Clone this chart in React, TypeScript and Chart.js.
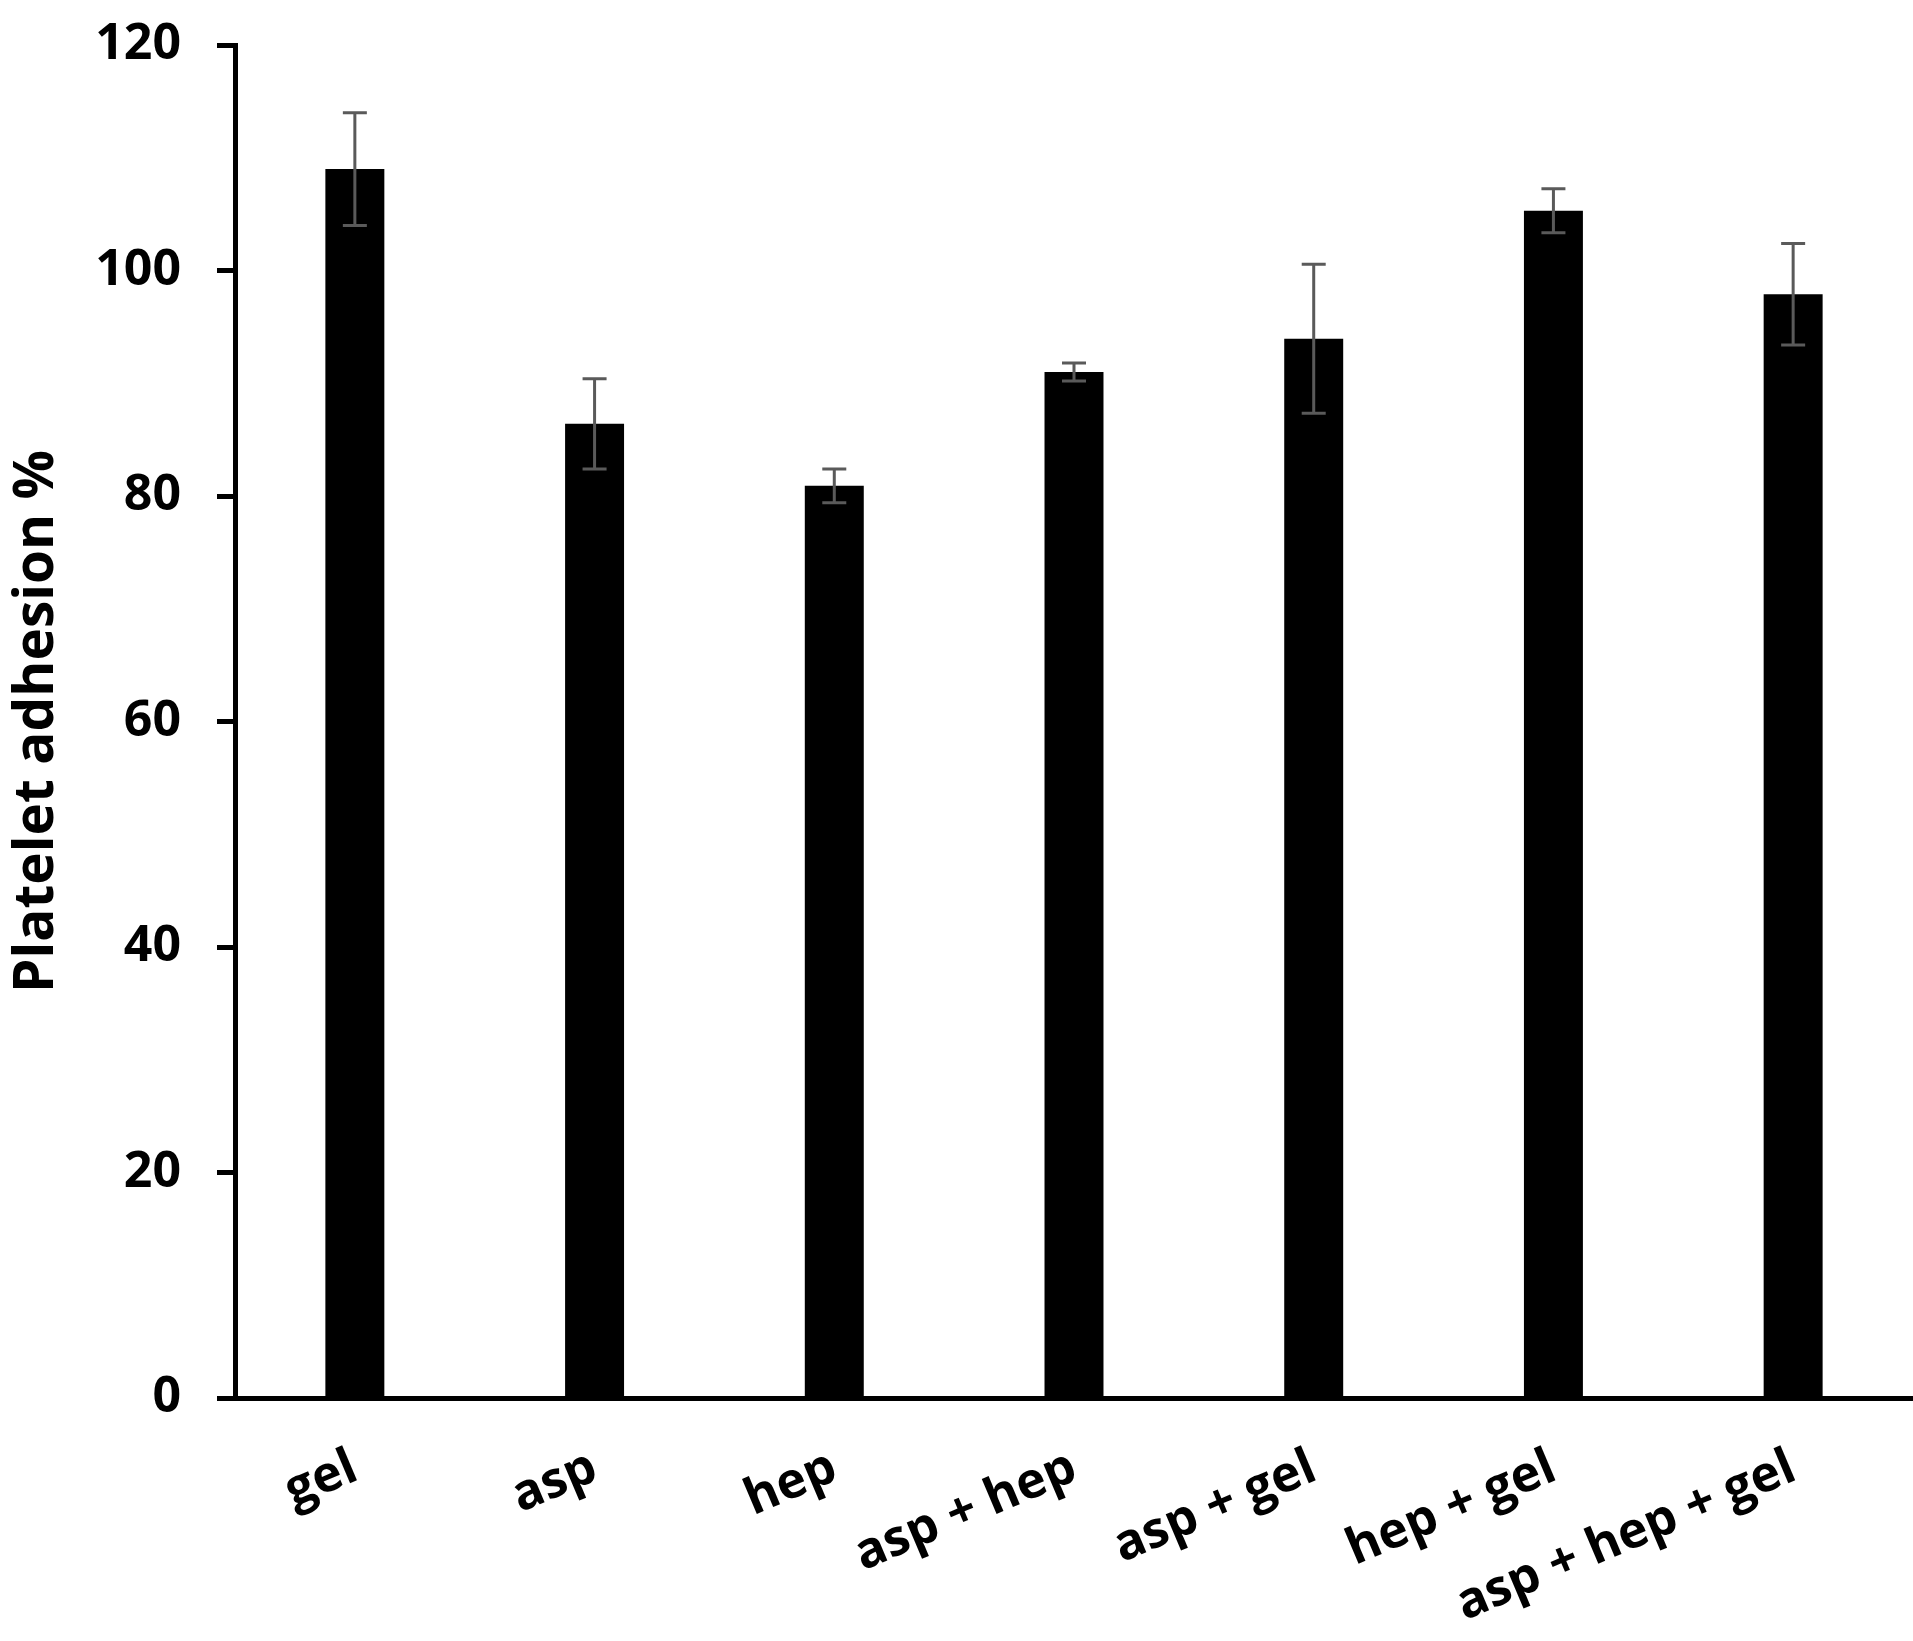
import React, { useEffect, useRef } from 'react';
import { Chart, registerables } from 'chart.js';

Chart.register(...registerables);

const categories = ['gel', 'asp', 'hep', 'asp + hep', 'asp + gel', 'hep + gel', 'asp + hep + gel'];
const adhesion = [109.0, 86.4, 80.9, 91.0, 93.95, 105.3, 97.9];
const errors = [5.0, 4.0, 1.5, 0.8, 6.6, 1.95, 4.5];
const yTickValues = [0, 20, 40, 60, 80, 100, 120];
const yTitle = 'Platelet adhesion %';

const FONT = "'Open Sans', 'Noto Sans', sans-serif";

const errorBarPlugin = {
  id: 'errorBars',
  afterDatasetsDraw(chart: any) {
    const { ctx, scales } = chart;
    const y = scales.y;
    const meta = chart.getDatasetMeta(0);
    ctx.save();
    ctx.strokeStyle = '#5a5a5a';
    ctx.lineWidth = 3;
    meta.data.forEach((bar: any, i: number) => {
      const cx = bar.x;
      const top = y.getPixelForValue(adhesion[i] + errors[i]);
      const bot = y.getPixelForValue(adhesion[i] - errors[i]);
      const half = 12;
      ctx.beginPath();
      ctx.moveTo(cx, top);
      ctx.lineTo(cx, bot);
      ctx.moveTo(cx - half, top);
      ctx.lineTo(cx + half, top);
      ctx.moveTo(cx - half, bot);
      ctx.lineTo(cx + half, bot);
      ctx.stroke();
    });
    ctx.restore();
  },
};

export default function App() {
  const ref = useRef<HTMLCanvasElement | null>(null);
  useEffect(() => {
    if (!ref.current) return;
    const chart = new Chart(ref.current, {
      type: 'bar',
      data: {
        labels: categories,
        datasets: [
          {
            data: adhesion,
            backgroundColor: '#000000',
            borderWidth: 0,
            barPercentage: 0.246,
            categoryPercentage: 1.0,
          },
        ],
      },
      options: {
        responsive: false,
        animation: false,
        layout: { padding: { top: 45, left: 0, right: 0, bottom: 0 } },
        plugins: { legend: { display: false }, tooltip: { enabled: false } },
        scales: {
          x: {
            grid: { display: false, drawTicks: false },
            border: { display: true, color: '#000', width: 5 },
            ticks: {
              color: '#000',
              font: { family: FONT, weight: 'bold', size: 50 },
              minRotation: 23,
              maxRotation: 23,
              padding: 40,
              autoSkip: false,
            },
            afterFit: (scale: any) => {
              scale.height = 243;
              scale.paddingLeft = 0;
              scale.paddingRight = 0;
            },
          },
          y: {
            min: 0,
            max: 120,
            afterBuildTicks: (scale: any) => {
              scale.ticks = yTickValues.map((v) => ({ value: v }));
            },
            grid: {
              display: true,
              drawOnChartArea: false,
              drawTicks: true,
              tickLength: 18,
              tickWidth: 5,
              tickColor: '#000',
              color: '#000',
            },
            border: { display: true, color: '#000', width: 5 },
            ticks: {
              color: '#000',
              font: { family: FONT, weight: 'bold', size: 50 },
              padding: 36,
            },
            title: {
              display: true,
              text: yTitle,
              color: '#000',
              font: { family: FONT, weight: 'bold', size: 55 },
              padding: { top: 4, bottom: 0 },
            },
            afterFit: (scale: any) => {
              scale.width = 235;
              scale.paddingTop = 0;
              scale.paddingBottom = 0;
            },
          },
        },
      },
      plugins: [errorBarPlugin],
    });
    return () => chart.destroy();
  }, []);
  return (
    <div style={{ position: 'absolute', left: 0, top: 0, background: '#fff' }}>
      <canvas ref={ref} width={1913} height={1641} style={{ display: 'block' }} />
    </div>
  );
}
